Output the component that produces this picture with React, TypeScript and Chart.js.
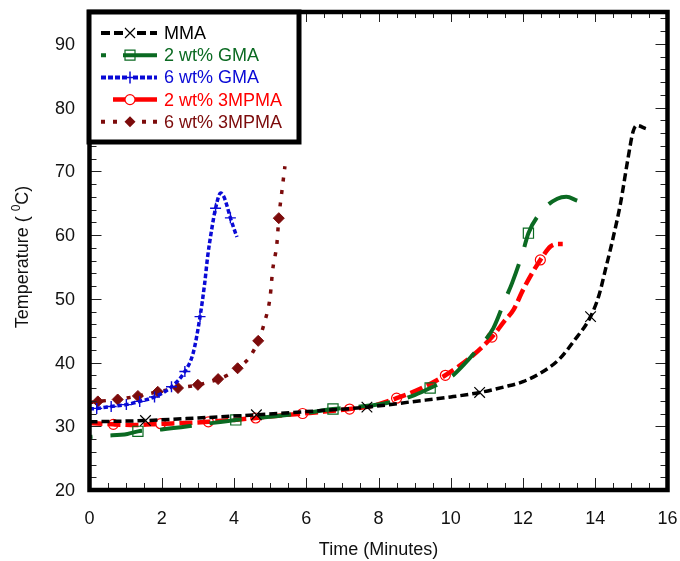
import React, { useEffect, useRef } from 'react';
import { Chart, registerables } from 'chart.js';

Chart.register(...registerables);

// ---------- data ----------
const seriesLabels = ['MMA', '2 wt% GMA', '6 wt% GMA', '2 wt% 3MPMA', '6 wt% 3MPMA'];

const mmaTime = [0, 1.55, 3, 4.62, 6, 7.68, 9, 10, 10.8, 11.5, 12, 12.5, 13, 13.4, 13.87, 14.1, 14.3, 14.5, 14.7, 14.9, 15.05, 15.15, 15.4];
const mmaTemp = [30.7, 30.9, 31.3, 31.8, 32.3, 33.0, 33.9, 34.6, 35.3, 36.2, 37.0, 38.4, 40.5, 43.3, 47.2, 50.5, 55.0, 59.7, 65.0, 71.8, 76.3, 77.2, 76.7];
const mmaMarkers = [1.55, 4.62, 7.68, 10.8, 13.87];

const gma2Time = [0, 0.42, 1.05, 1.34, 2, 3, 4.05, 5, 6, 6.74, 7.5, 8, 8.5, 9, 9.43, 10, 10.35, 10.8, 11.18, 11.5, 11.7, 12.0, 12.15, 12.56, 12.95, 13.2, 13.5];
const gma2Temp = [28.3, 28.5, 28.8, 29.2, 29.5, 30.2, 31.0, 31.5, 32.1, 32.7, 33.1, 33.4, 34.0, 34.9, 36.0, 37.7, 39.6, 42.5, 45.4, 49.8, 52.5, 57.4, 60.3, 64.0, 65.7, 66.0, 65.4];
const gma2Markers = [1.34, 4.05, 6.74, 9.43, 12.15];

const gma6Time = [0, 0.2, 0.6, 1.02, 1.39, 1.8, 2.27, 2.64, 2.87, 3.06, 3.19, 3.27, 3.38, 3.49, 3.63, 3.72, 3.8, 3.9, 4.0, 4.08];
const gma6Temp = [32.7, 32.8, 33.1, 33.4, 33.9, 34.6, 36.2, 38.6, 41.5, 47.2, 52.5, 56.6, 60.8, 64.2, 66.6, 66.0, 64.7, 62.7, 61.0, 59.7];
const gma6Markers = [0.2, 0.6, 1.02, 1.39, 1.8, 2.27, 2.64, 3.06, 3.49, 3.9];

const mp2Time = [0, 0.66, 1.3, 1.97, 2.6, 3.29, 4.0, 4.6, 5.3, 5.9, 6.5, 7.2, 7.9, 8.5, 9.2, 9.85, 10.5, 11.14, 11.5, 11.74, 12.0, 12.25, 12.48, 12.76, 12.95, 13.1];
const mp2Temp = [30.5, 30.3, 30.2, 30.4, 30.5, 30.7, 31.0, 31.3, 31.7, 32.0, 32.3, 32.7, 33.3, 34.4, 36.0, 38.0, 40.6, 44.0, 46.6, 48.3, 51.4, 54.0, 56.1, 58.2, 58.6, 58.6];
const mp2Markers = [0.66, 1.97, 3.29, 4.6, 5.9, 7.2, 8.5, 9.85, 11.14, 12.48];

const mp6Time = [0, 0.23, 0.78, 1.34, 1.89, 2.45, 3.0, 3.56, 3.85, 4.1, 4.44, 4.67, 4.85, 5.0, 5.07, 5.19, 5.24, 5.32, 5.41];
const mp6Temp = [33.7, 33.9, 34.2, 34.75, 35.4, 36.0, 36.5, 37.4, 38.1, 39.1, 40.9, 43.4, 46.4, 50.3, 54.5, 58.8, 62.65, 66.6, 70.8];
const mp6Markers = [0.23, 0.78, 1.34, 1.89, 2.45, 3.0, 3.56, 4.1, 4.67, 5.24];

const xTicks = [0, 2, 4, 6, 8, 10, 12, 14, 16];
const yTicks = [20, 30, 40, 50, 60, 70, 80, 90];
const xMinorStep = 0.5;
const yMinorStep = 2;
const xTitle = 'Time (Minutes)';
const yTitleMain = 'Temperature ( ';
const yTitleSup = '0';
const yTitleEnd = 'C)';

// ---------- styles ----------
const COLORS = ['#000000', '#0b6a22', '#0a0ad6', '#ff0000', '#7c0b0b'];
const FONT = '"Liberation Sans", Arial, Helvetica, sans-serif';

const toPts = (t: number[], v: number[]) => t.map((x, i) => ({ x, y: v[i] }));
const radiusFor = (markers: number[], r: number) => (c: any) =>
  c.raw && markers.includes(c.raw.x) ? r : 0;

function drawMarker(ctx: CanvasRenderingContext2D, kind: string, x: number, y: number, color: string) {
  ctx.save();
  ctx.strokeStyle = color;
  ctx.fillStyle = color;
  ctx.setLineDash([]);
  ctx.beginPath();
  if (kind === 'x') {
    ctx.lineWidth = 1.2;
    const d = 5;
    ctx.moveTo(x - d, y - d); ctx.lineTo(x + d, y + d);
    ctx.moveTo(x + d, y - d); ctx.lineTo(x - d, y + d);
    ctx.stroke();
  } else if (kind === 'rect') {
    ctx.lineWidth = 1.2;
    ctx.rect(x - 5, y - 5, 10, 10);
    ctx.stroke();
  } else if (kind === 'plus') {
    ctx.lineWidth = 1.5;
    ctx.moveTo(x - 5, y); ctx.lineTo(x + 5, y);
    ctx.moveTo(x, y - 6); ctx.lineTo(x, y + 6);
    ctx.stroke();
  } else if (kind === 'circle') {
    ctx.lineWidth = 1.2;
    ctx.fillStyle = '#fff';
    ctx.arc(x, y, 5, 0, Math.PI * 2);
    ctx.fill();
    ctx.stroke();
  } else if (kind === 'diamond') {
    ctx.moveTo(x - 5.5, y); ctx.lineTo(x, y - 5.5); ctx.lineTo(x + 5.5, y); ctx.lineTo(x, y + 5.5);
    ctx.closePath();
    ctx.fill();
  }
  ctx.restore();
}

const legendSegments: number[][][] = [
  [[101, 110], [114, 123], [137, 146], [150, 157]],
  [[101, 106], [123, 157]],
  [[101, 106], [108, 113], [115, 120], [122, 127], [133, 138], [140, 145], [147, 152], [154, 157]],
  [[113, 125], [135, 157]],
  [[101, 105], [113, 117], [142, 146], [153, 157]],
];
const legendMarkers = ['x', 'rect', 'plus', 'circle', 'diamond'];
const legendWidths = [4, 4, 4, 4.5, 4];

const framePlugin = {
  id: 'framePlugin',
  afterDraw(chart: any) {
    const { ctx, chartArea: a, scales } = chart;
    const xs = scales.x;
    const ys = scales.y;
    ctx.save();

    // inside ticks on all four sides
    ctx.strokeStyle = '#222';
    ctx.lineWidth = 1;
    ctx.beginPath();
    for (let v = xs.min; v <= xs.max + 1e-9; v += xMinorStep) {
      const px = Math.round(xs.getPixelForValue(v)) + 0.5;
      const major = xTicks.some((t) => Math.abs(t - v) < 1e-6);
      const len = major ? 12 : 7;
      ctx.moveTo(px, a.bottom); ctx.lineTo(px, a.bottom - len);
      ctx.moveTo(px, a.top); ctx.lineTo(px, a.top + (major ? 10 : 6));
    }
    for (let v = ys.min; v <= ys.max + 1e-9; v += yMinorStep) {
      const py = Math.round(ys.getPixelForValue(v)) + 0.5;
      const major = yTicks.some((t) => Math.abs(t - v) < 1e-6);
      const len = major ? 12 : 7;
      ctx.moveTo(a.left, py); ctx.lineTo(a.left + len, py);
      ctx.moveTo(a.right, py); ctx.lineTo(a.right - len, py);
    }
    ctx.stroke();

    // frame
    ctx.strokeStyle = '#000';
    ctx.lineWidth = 4.5;
    ctx.strokeRect(a.left, a.top, a.right - a.left, a.bottom - a.top);

    // tick labels
    ctx.fillStyle = '#111';
    ctx.font = `18px ${FONT}`;
    ctx.textAlign = 'right';
    ctx.textBaseline = 'middle';
    yTicks.forEach((v) => ctx.fillText(String(v), 75, ys.getPixelForValue(v) + 1));
    ctx.textAlign = 'center';
    xTicks.forEach((v) => ctx.fillText(String(v), xs.getPixelForValue(v), 519));

    // axis titles
    ctx.fillStyle = '#111';
    ctx.font = `18px ${FONT}`;
    ctx.textAlign = 'center';
    ctx.fillText(xTitle, (a.left + a.right) / 2 + 0, 550);

    ctx.save();
    ctx.translate(23, 257);
    ctx.rotate(-Math.PI / 2);
    ctx.font = `18px ${FONT}`;
    const w1 = ctx.measureText(yTitleMain).width;
    const w3 = ctx.measureText(yTitleEnd).width;
    ctx.font = `12px ${FONT}`;
    const w2 = ctx.measureText(yTitleSup).width;
    const total = w1 + w2 + w3;
    let cx = -total / 2;
    ctx.textAlign = 'left';
    ctx.font = `18px ${FONT}`;
    ctx.fillText(yTitleMain, cx, 0);
    cx += w1;
    ctx.font = `12px ${FONT}`;
    ctx.fillText(yTitleSup, cx, -6);
    cx += w2;
    ctx.font = `18px ${FONT}`;
    ctx.fillText(yTitleEnd, cx, 0);
    ctx.restore();

    // legend
    ctx.fillStyle = '#fff';
    ctx.fillRect(89, 12, 210, 130);
    ctx.strokeStyle = '#000';
    ctx.lineWidth = 5;
    ctx.strokeRect(89, 12, 210, 130);
    seriesLabels.forEach((label, i) => {
      const y = 33 + i * 22.2;
      const color = COLORS[i];
      ctx.strokeStyle = color;
      ctx.lineWidth = legendWidths[i];
      ctx.lineCap = 'butt';
      ctx.beginPath();
      legendSegments[i].forEach(([s, e]) => { ctx.moveTo(s, y); ctx.lineTo(e, y); });
      ctx.stroke();
      drawMarker(ctx, legendMarkers[i], 130, y, color);
      ctx.fillStyle = color;
      ctx.font = `18px ${FONT}`;
      ctx.textAlign = 'left';
      ctx.textBaseline = 'middle';
      ctx.fillText(label, 164, y + 1);
    });

    ctx.restore();
  },
};

export default function App() {
  const ref = useRef<HTMLCanvasElement | null>(null);

  useEffect(() => {
    if (!ref.current) return;
    const common = {
      fill: false,
      cubicInterpolationMode: 'monotone' as const,
      pointHoverRadius: 0,
      borderCapStyle: 'butt' as const,
    };
    const chart = new Chart(ref.current, {
      type: 'line',
      data: {
        datasets: [
          {
            ...common,
            label: seriesLabels[0],
            data: toPts(mmaTime, mmaTemp),
            borderColor: COLORS[0],
            borderWidth: 3.5,
            borderDash: [8, 4],
            pointStyle: 'crossRot',
            pointRadius: radiusFor(mmaMarkers, 7.5),
            pointBorderColor: COLORS[0],
            pointBorderWidth: 1.2,
          },
          {
            ...common,
            label: seriesLabels[1],
            data: toPts(gma2Time, gma2Temp),
            borderColor: COLORS[1],
            borderWidth: 4,
            borderDash: [32, 18],
            borderDashOffset: 29,
            pointStyle: 'rect',
            pointRadius: radiusFor(gma2Markers, 7.2),
            pointBorderColor: COLORS[1],
            pointBackgroundColor: 'rgba(0,0,0,0)',
            pointBorderWidth: 1.2,
          },
          {
            ...common,
            label: seriesLabels[2],
            data: toPts(gma6Time, gma6Temp),
            borderColor: COLORS[2],
            borderWidth: 3.5,
            borderDash: [4.5, 2.5],
            pointStyle: 'cross',
            pointRadius: radiusFor(gma6Markers, 5.5),
            pointBorderColor: COLORS[2],
            pointBorderWidth: 1.4,
          },
          {
            ...common,
            label: seriesLabels[3],
            data: toPts(mp2Time, mp2Temp),
            borderColor: COLORS[3],
            borderWidth: 4.5,
            borderDash: [13, 5],
            pointStyle: 'circle',
            pointRadius: radiusFor(mp2Markers, 5),
            pointBorderColor: COLORS[3],
            pointBackgroundColor: 'rgba(0,0,0,0)',
            pointBorderWidth: 1.2,
          },
          {
            ...common,
            label: seriesLabels[4],
            data: toPts(mp6Time, mp6Temp),
            borderColor: COLORS[4],
            borderWidth: 3.5,
            borderDash: [4, 8.5],
            pointStyle: 'rectRot',
            pointRadius: radiusFor(mp6Markers, 5.5),
            pointBorderColor: COLORS[4],
            pointBackgroundColor: COLORS[4],
            pointBorderWidth: 1,
          },
        ],
      },
      options: {
        animation: false,
        responsive: false,
        devicePixelRatio: 1,
        events: [],
        layout: { autoPadding: false, padding: { left: 0, top: 12, right: 12.5, bottom: 0 } },
        plugins: { legend: { display: false }, tooltip: { enabled: false }, title: { display: false } },
        scales: {
          x: {
            type: 'linear',
            min: 0,
            max: 16,
            ticks: { display: false },
            grid: { display: false, drawTicks: false },
            border: { display: false },
            afterFit: (s: any) => { s.height = 71; },
          },
          y: {
            type: 'linear',
            min: 20,
            max: 95,
            ticks: { display: false },
            grid: { display: false, drawTicks: false },
            border: { display: false },
            afterFit: (s: any) => { s.width = 89.5; },
          },
        },
      } as any,
      plugins: [framePlugin],
    });
    return () => chart.destroy();
  }, []);

  return (
    <div style={{ position: 'absolute', left: 0, top: 0, width: 680, height: 561, background: '#fff' }}>
      <canvas ref={ref} width={680} height={561} style={{ width: 680, height: 561, display: 'block' }} />
    </div>
  );
}
